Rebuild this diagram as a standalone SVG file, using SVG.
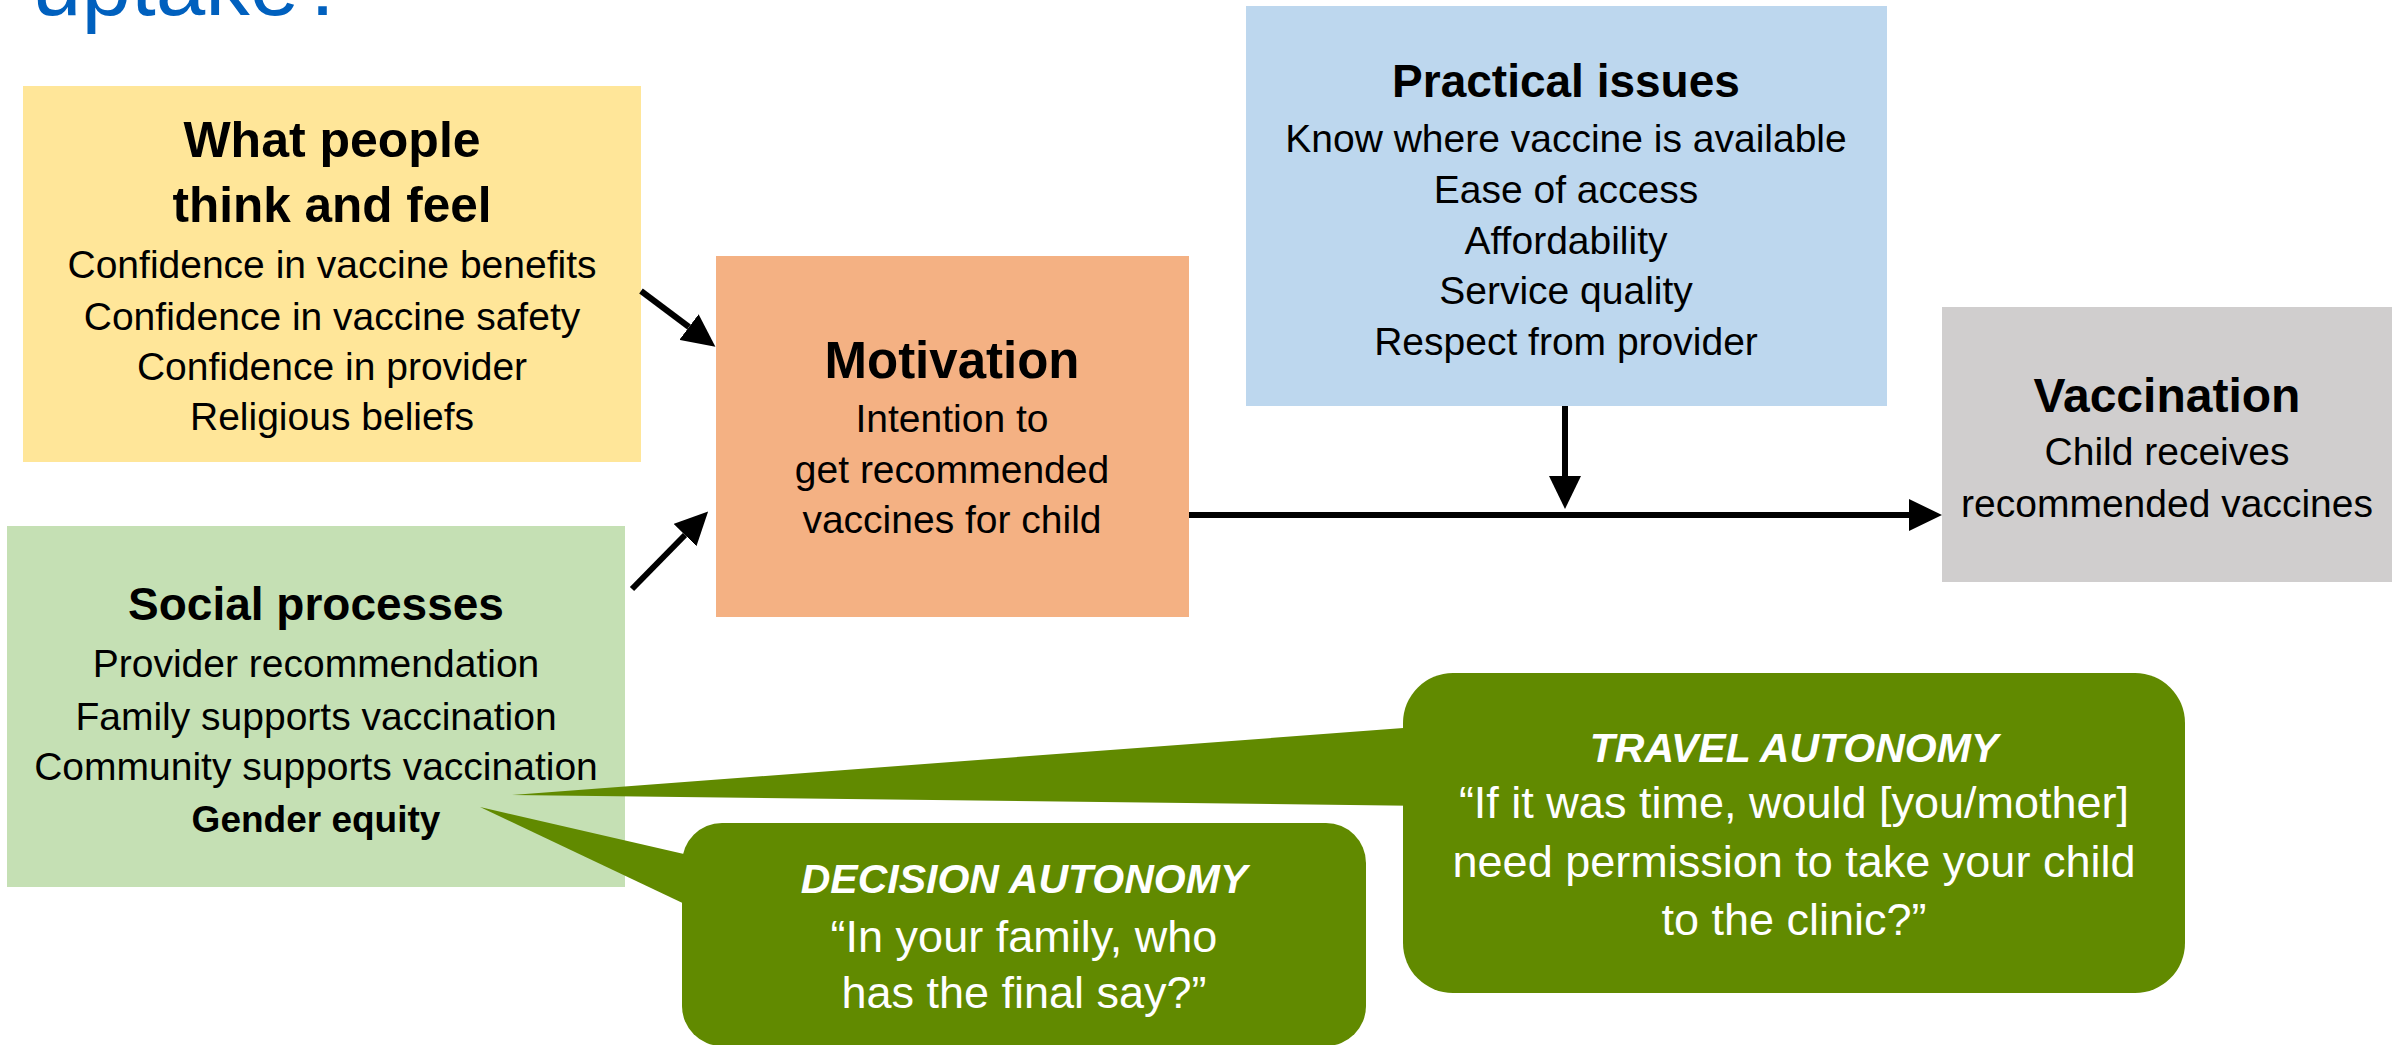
<svg xmlns="http://www.w3.org/2000/svg" width="2405" height="1045" viewBox="0 0 2405 1045">
<style>
text{font-family:"Liberation Sans",Arial,sans-serif;text-anchor:middle;fill:#000}
.t{font-weight:bold}
.b{font-size:39px}
.q{font-size:45px;fill:#fff}
.qh{font-size:41px;font-weight:bold;font-style:italic;fill:#fff}
.c{stroke:#000;stroke-width:6;fill:none}
.bub{fill:#618A00}
</style>
<defs>
<marker id="ah" markerUnits="userSpaceOnUse" viewBox="0 0 33 32" markerWidth="33" markerHeight="32" refX="0" refY="16" orient="auto">
<path d="M0,0 L33,16 L0,32 z" fill="#000"/>
</marker>
</defs>
<rect width="2405" height="1045" fill="#fff"/>
<text x="32" y="15" style="text-anchor:start;font-size:89px;fill:#0060BE">uptake?</text>

<g id="thinkfeel">
<rect x="23" y="86" width="618" height="376" fill="#FFE699"/>
<text class="t" x="332" y="157" font-size="50">What people</text>
<text class="t" x="332" y="222" font-size="49.5">think and feel</text>
<text class="b" x="332" y="278">Confidence in vaccine benefits</text>
<text class="b" x="332" y="330">Confidence in vaccine safety</text>
<text class="b" x="332" y="380">Confidence in provider</text>
<text class="b" x="332" y="430">Religious beliefs</text>
</g>

<g id="social">
<rect x="7" y="526" width="618" height="361" fill="#C5E0B4"/>
<text class="t" x="316" y="620" font-size="46">Social processes</text>
<text class="b" x="316" y="677">Provider recommendation</text>
<text class="b" x="316" y="730">Family supports vaccination</text>
<text class="b" x="316" y="780">Community supports vaccination</text>
<text class="t" x="316" y="832" font-size="37">Gender equity</text>
</g>

<g id="motivation">
<rect x="716" y="256" width="473" height="361" fill="#F4B183"/>
<text class="t" x="952" y="378" font-size="51">Motivation</text>
<text class="b" x="952" y="432">Intention to</text>
<text class="b" x="952" y="483">get recommended</text>
<text class="b" x="952" y="533">vaccines for child</text>
</g>

<g id="practical">
<rect x="1246" y="6" width="641" height="400" fill="#BDD7EE"/>
<text class="t" x="1566" y="97" font-size="46">Practical issues</text>
<text class="b" x="1566" y="152">Know where vaccine is available</text>
<text class="b" x="1566" y="203">Ease of access</text>
<text class="b" x="1566" y="254">Affordability</text>
<text class="b" x="1566" y="304">Service quality</text>
<text class="b" x="1566" y="355">Respect from provider</text>
</g>

<g id="vaccination">
<rect x="1942" y="307" width="450" height="275" fill="#D0CECE"/>
<text class="t" x="2167" y="412" font-size="48">Vaccination</text>
<text class="b" x="2167" y="465">Child receives</text>
<text class="b" x="2167" y="517">recommended vaccines</text>
</g>

<g id="travel">
<polygon class="bub" points="1430,726 512,795 1430,806"/>
<rect class="bub" x="1403" y="673" width="782" height="320" rx="50" ry="50"/>
<text class="qh" x="1794" y="762">TRAVEL AUTONOMY</text>
<text class="q" x="1794" y="818">“If it was time, would [you/mother]</text>
<text class="q" x="1794" y="877">need permission to take your child</text>
<text class="q" x="1794" y="935">to the clinic?”</text>
</g>

<g id="decision">
<polygon class="bub" points="710,860 480,807 710,916"/>
<rect class="bub" x="682" y="823" width="684" height="223" rx="40" ry="40"/>
<text class="qh" x="1024" y="893">DECISION AUTONOMY</text>
<text class="q" x="1024" y="952">“In your family, who</text>
<text class="q" x="1024" y="1008">has the final say?”</text>
</g>

<g id="connectors">
<line class="c" x1="641" y1="291" x2="689" y2="327" marker-end="url(#ah)"/>
<line class="c" x1="632" y1="589" x2="685" y2="535" marker-end="url(#ah)"/>
<line class="c" x1="1565" y1="406" x2="1565" y2="476" marker-end="url(#ah)"/>
<line class="c" x1="1189" y1="515" x2="1909" y2="515" marker-end="url(#ah)"/>
</g>
</svg>
